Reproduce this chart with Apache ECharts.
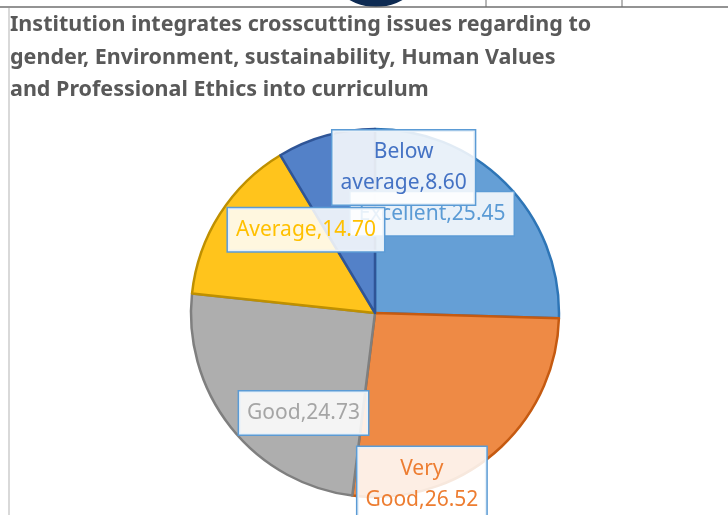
<!DOCTYPE html>
<html>
<head>
<meta charset="utf-8">
<script src="https://cdn.jsdelivr.net/npm/echarts@6/dist/echarts.min.js"></script>
<style>
  html, body { margin: 0; padding: 0; background: #fff; }
  #chart { width: 728px; height: 515px; }
</style>
</head>
<body>
<div id="chart"></div>
<script>
// data (percent of responses)
const categories = ['Excellent', 'Very Good', 'Good', 'Average', 'Below average'];
const values = [25.45, 26.52, 24.73, 14.70, 8.60];
const fills = ['#659fd6', '#ee8a45', '#aeaeae', '#ffc41c', '#5381c8'];
const edges = ['#2e75b6', '#c55a11', '#7f7f7f', '#bf9000', '#2f5597'];
const textColors = ['#5b9bd5', '#ed7d31', '#a5a5a5', '#ffc000', '#4472c4'];
// label nudges away from the default inside spot
const labelOffsets = [[-11, -33], [-15, 99], [3, 41], [11, -32], [54, -54]];
// labels that wrap after the first word
const wrapLabel = [false, true, false, false, true];

const chart = echarts.init(document.getElementById('chart'));

const pieData = categories.map((name, i) => ({
  name: name,
  value: values[i],
  itemStyle: { color: fills[i], borderColor: edges[i], borderWidth: 2.5 },
  label: { color: textColors[i], offset: labelOffsets[i] }
}));

const option = {
  backgroundColor: '#fff',
  animation: false,
  title: {
    text: 'Institution integrates crosscutting issues regarding to\ngender, Environment, sustainability, Human Values\nand Professional Ethics into curriculum',
    left: 10,
    top: 9,
    padding: 0,
    textStyle: {
      fontFamily: 'Noto Sans',
      fontSize: 21.5,
      fontWeight: 'bold',
      color: '#595959',
      lineHeight: 32.5
    }
  },
  graphic: [
    // bits of the sheet behind the chart
    { type: 'circle', shape: { cx: 376, cy: -46.6, r: 53.6 }, style: { fill: '#0d2a52' }, z: 1 },
    { type: 'line', shape: { x1: 0, y1: 7, x2: 728, y2: 7 }, style: { stroke: '#6f6f6f', lineWidth: 1.5 }, z: 2 },
    { type: 'line', shape: { x1: 486, y1: 0, x2: 486, y2: 7 }, style: { stroke: '#6f6f6f', lineWidth: 1 }, z: 2 },
    { type: 'line', shape: { x1: 622, y1: 0, x2: 622, y2: 7 }, style: { stroke: '#6f6f6f', lineWidth: 1 }, z: 2 },
    { type: 'line', shape: { x1: 9, y1: 8, x2: 9, y2: 515 }, style: { stroke: '#d9d9d9', lineWidth: 2 }, z: 2 }
  ],
  series: [
    {
      type: 'pie',
      center: [375, 313],
      radius: 184,
      startAngle: 90,
      clockwise: true,
      avoidLabelOverlap: false,
      labelLayout: { hideOverlap: false },
      labelLine: { show: false },
      label: {
        show: true,
        position: 'inside',
        formatter: p => {
          const txt = p.name + ',' + p.value.toFixed(2);
          return wrapLabel[p.dataIndex] ? txt.replace(' ', '\n') : txt;
        },
        fontFamily: 'Noto Sans',
        fontSize: 21,
        lineHeight: 31,
        align: 'center',
        backgroundColor: 'rgba(255,255,255,0.86)',
        borderColor: '#5b9bd5',
        borderWidth: 1.5,
        padding: [6, 8]
      },
      emphasis: { disabled: true },
      data: pieData
    }
  ]
};

chart.setOption(option);
</script>
</body>
</html>
